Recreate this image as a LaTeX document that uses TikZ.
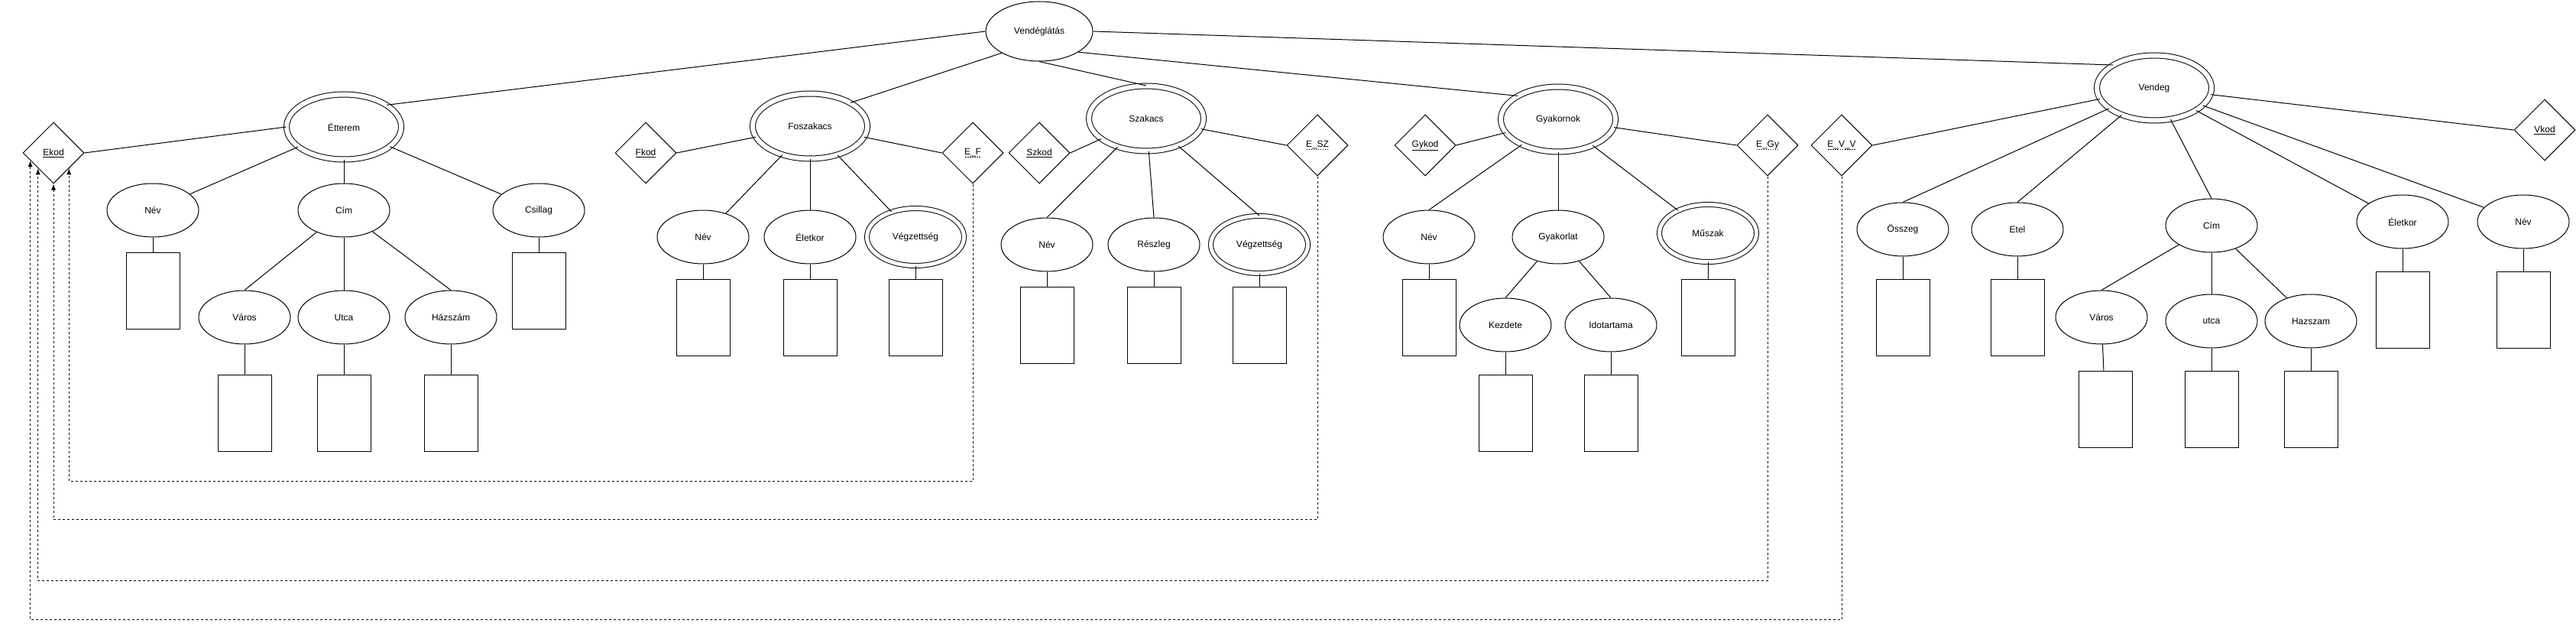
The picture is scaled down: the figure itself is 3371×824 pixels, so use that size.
\documentclass[tikz,border=0pt]{standalone}
\usepackage{fontspec}
\setmainfont{Liberation Sans}
\usetikzlibrary{shapes.geometric,arrows.meta,calc}
\newcommand\dashul[1]{\setbox0=\hbox{#1}\leavevmode\rlap{\raisebox{-2.5pt}{\hbox to \wd0{\xleaders\hbox to 3pt{\hss\rule{1.8pt}{0.6pt}\hss}\hfill}}}\box0}

\begin{document}
\begin{tikzpicture}[x=1pt,y=-1pt,line width=1pt,
    every node/.style={font=\fontsize{12}{14}\selectfont},
    root/.style={draw,ellipse,minimum width=140pt,minimum height=78pt,inner sep=0pt},
    ent/.style={draw,ellipse,double,double distance=6pt,minimum width=150pt,minimum height=85pt,inner sep=0pt},
    attr/.style={draw,ellipse,minimum width=120pt,minimum height=70pt,inner sep=0pt},
    multi/.style={draw,ellipse,double,double distance=5pt,minimum width=127pt,minimum height=75pt,inner sep=0pt},
    rel/.style={draw,diamond,minimum width=80pt,minimum height=80pt,inner sep=0pt},
    dom/.style={draw,rectangle,minimum width=70pt,minimum height=100pt,inner sep=0pt},
    keyref/.style={dash pattern=on 3pt off 3pt,-{Latex[length=8pt,width=6pt]}}]
  \useasboundingbox (0,0) rectangle (3371,824);

  \node[root] (vl) at (1360,41) {Vendéglátás};

  % etterem
  \node[ent] (etterem) at (450,166) {Étterem};
  \node[rel] (ekod) at (70,200) {\underline{Ekod}};
  \node[attr] (et_nev) at (200,275) {Név};
  \node[attr] (et_cim) at (450,275) {Cím};
  \node[attr] (et_csillag) at (705,275) {Csillag};
  \node[attr] (et_varos) at (320,415) {Város};
  \node[attr] (et_utca) at (450,415) {Utca};
  \node[attr] (et_hazszam) at (590,415) {Házszám};
  \node[dom] (et_nev_b) at (200,380) {};
  \node[dom] (et_csillag_b) at (705,380) {};
  \node[dom] (et_varos_b) at (320,540) {};
  \node[dom] (et_utca_b) at (450,540) {};
  \node[dom] (et_hazszam_b) at (590,540) {};

  % foszakacs
  \node[ent] (fosz) at (1060,165) {Foszakacs};
  \node[rel] (fkod) at (845,200) {\underline{Fkod}};
  \node[rel] (e_f) at (1273,200) {\dashul{E\_F}};
  \node[attr] (fo_nev) at (920,310) {Név};
  \node[attr] (fo_kor) at (1060,310) {Életkor};
  \node[multi] (fo_vegz) at (1198,310) {Végzettség};
  \node[dom] (fo_nev_b) at (920,415) {};
  \node[dom] (fo_kor_b) at (1060,415) {};
  \node[dom] (fo_vegz_b) at (1198,415) {};

  % szakacs
  \node[ent] (szak) at (1500,155) {Szakacs};
  \node[rel] (szkod) at (1360,200) {\underline{Szkod}};
  \node[rel] (e_sz) at (1724,190) {\dashul{E\_SZ}};
  \node[attr] (sz_nev) at (1370,320) {Név};
  \node[attr] (sz_resz) at (1510,320) {Részleg};
  \node[multi] (sz_vegz) at (1648,320) {Végzettség};
  \node[dom] (sz_nev_b) at (1370,425) {};
  \node[dom] (sz_resz_b) at (1510,425) {};
  \node[dom] (sz_vegz_b) at (1648,425) {};

  % gyakornok
  \node[ent] (gyak) at (2039,156) {Gyakornok};
  \node[rel] (gykod) at (1865,190) {\underline{Gykod}};
  \node[rel] (e_gy) at (2313,190) {\dashul{E\_Gy}};
  \node[attr] (gy_nev) at (1870,310) {Név};
  \node[attr] (gy_gyak) at (2039,310) {Gyakorlat};
  \node[multi] (gy_musz) at (2235,305) {Műszak};
  \node[attr] (gy_kezd) at (1970,425) {Kezdete};
  \node[attr] (gy_ido) at (2108,425) {Idotartama};
  \node[dom] (gy_nev_b) at (1870,415) {};
  \node[dom] (gy_musz_b) at (2235,415) {};
  \node[dom] (gy_kezd_b) at (1970,540) {};
  \node[dom] (gy_ido_b) at (2108,540) {};

  % vendeg
  \node[ent] (vend) at (2819,115) {Vendeg};
  \node[rel] (e_v_v) at (2410,190) {\dashul{E\_V\_V}};
  \node[rel] (vkod) at (3330,170) {\underline{Vkod}};
  \node[attr] (ve_osszeg) at (2490,300) {Összeg};
  \node[attr] (ve_etel) at (2640,300) {Etel};
  \node[attr] (ve_cim) at (2894,295) {Cím};
  \node[attr] (ve_kor) at (3144,290) {Életkor};
  \node[attr] (ve_nev) at (3302,290) {Név};
  \node[attr] (ve_varos) at (2750,415) {Város};
  \node[attr] (ve_utca) at (2894,420) {utca};
  \node[attr] (ve_hazszam) at (3024,420) {Hazszam};
  \node[dom] (ve_osszeg_b) at (2490,415) {};
  \node[dom] (ve_etel_b) at (2640,415) {};
  \node[dom] (ve_kor_b) at (3144,405) {};
  \node[dom] (ve_nev_b) at (3302,405) {};
  \node[dom] (ve_varos_b) at (2755,535) {};
  \node[dom] (ve_utca_b) at (2894,535) {};
  \node[dom] (ve_hazszam_b) at (3024,535) {};

  % root edges
  \draw (vl.west) -- (etterem.27);
  \draw (vl.210) -- (fosz.30);
  \draw (vl.south) -- (szak.north);
  \draw (vl.-28) -- (gyak.150);
  \draw (vl.east) -- (vend.151);

  % etterem edges
  \draw (ekod.east) -- (etterem.west);
  \draw (etterem) -- (et_nev);
  \draw (etterem) -- (et_cim);
  \draw (etterem) -- (et_csillag);
  \draw (et_cim) -- (et_varos.north);
  \draw (et_cim) -- (et_utca);
  \draw (et_cim) -- (et_hazszam.north);
  \draw (et_nev) -- (et_nev_b);
  \draw (et_csillag) -- (et_csillag_b);
  \draw (et_varos) -- (et_varos_b);
  \draw (et_utca) -- (et_utca_b);
  \draw (et_hazszam) -- (et_hazszam_b);

  % foszakacs edges
  \draw (fkod.east) -- (fosz);
  \draw (fosz) -- (e_f.west);
  \draw (fosz) -- (fo_nev);
  \draw (fosz) -- (fo_kor);
  \draw (fosz) -- (fo_vegz);
  \draw (fo_nev) -- (fo_nev_b);
  \draw (fo_kor) -- (fo_kor_b);
  \draw (fo_vegz) -- (fo_vegz_b);

  % szakacs edges
  \draw (szkod.east) -- (szak);
  \draw (szak) -- (e_sz.west);
  \draw (szak) -- (sz_nev.north);
  \draw (szak) -- (sz_resz.north);
  \draw (szak) -- (sz_vegz.north);
  \draw (sz_nev) -- (sz_nev_b);
  \draw (sz_resz) -- (sz_resz_b);
  \draw (sz_vegz) -- (sz_vegz_b);

  % gyakornok edges
  \draw (gykod.east) -- (gyak);
  \draw (gyak) -- (e_gy.west);
  \draw (gyak) -- (gy_nev.north);
  \draw (gyak) -- (gy_gyak);
  \draw (gyak) -- (gy_musz);
  \draw (gy_gyak) -- (gy_kezd.north);
  \draw (gy_gyak) -- (gy_ido.north);
  \draw (gy_nev) -- (gy_nev_b);
  \draw (gy_musz) -- (gy_musz_b);
  \draw (gy_kezd) -- (gy_kezd_b);
  \draw (gy_ido) -- (gy_ido_b);

  % vendeg edges
  \draw (vend) -- (e_v_v.east);
  \draw (vend) -- (vkod.west);
  \draw (vend) -- (ve_osszeg.north);
  \draw (vend) -- (ve_etel.north);
  \draw (vend) -- (ve_cim.north);
  \draw (vend) -- (ve_kor);
  \draw (vend) -- (ve_nev);
  \draw (ve_cim) -- (ve_varos.north);
  \draw (ve_cim) -- (ve_utca);
  \draw (ve_cim) -- (ve_hazszam);
  \draw (ve_osszeg) -- (ve_osszeg_b);
  \draw (ve_etel) -- (ve_etel_b);
  \draw (ve_kor) -- (ve_kor_b);
  \draw (ve_nev) -- (ve_nev_b);
  \draw (ve_varos) -- (ve_varos_b);
  \draw (ve_utca) -- (ve_utca_b);
  \draw (ve_hazszam) -- (ve_hazszam_b);

  % references to ekod
  \coordinate (ekod_in) at ($(ekod.west)!.25!(ekod.south)$);
  \draw[keyref] (e_f.south) -- ++(0,389) -| (ekod.south east);
  \draw[keyref] (e_sz.south) -- ++(0,449) -| (ekod.south);
  \draw[keyref] (e_gy.south) -- ++(0,529) -| (ekod.south west);
  \draw[keyref] (e_v_v.south) -- ++(0,580) -| (ekod_in);
\end{tikzpicture}
\end{document}
